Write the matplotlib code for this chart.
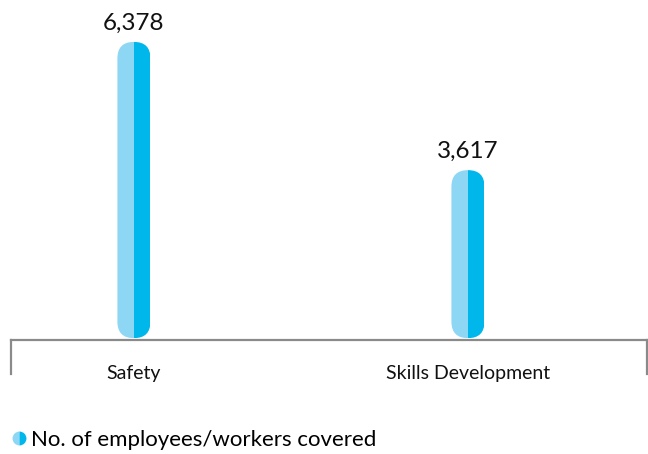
import matplotlib.pyplot as plt
from matplotlib.lines import Line2D
from matplotlib.patches import FancyBboxPatch
from matplotlib.transforms import IdentityTransform

categories = ['Safety', 'Skills Development']
covered = [6378, 3617]
legend_label = 'No. of employees/workers covered'

light = '#8dd7f5'
dark = '#00b7ec'
axis_grey = '#8a8a8a'

plt.rcParams['font.family'] = ['Lato', 'DejaVu Sans']

fig = plt.figure(figsize=(6.48, 4.54), dpi=100)
ax = fig.add_axes([11 / 648, 114 / 454, 636 / 648, 340 / 454])

pos = list(range(len(categories)))
half = 0.0495
left_bars = ax.bar([p - half / 2 for p in pos], covered, width=half, color=light, linewidth=0)
right_bars = ax.bar([p + half / 2 for p in pos], covered, width=half, color=dark, linewidth=0)

ax.set_xlim(-0.368, 1.536)
ax.set_ylim(-40, 7280)

for s in ['top', 'left', 'right']:
    ax.spines[s].set_visible(False)
ax.spines['bottom'].set_color(axis_grey)
ax.spines['bottom'].set_linewidth(1.6)
ax.spines['bottom'].set_position(('data', -40))
ax.set_yticks([])
ax.set_xticks(pos)
ax.set_xticklabels(categories, fontsize=14, family=['Lato', 'DejaVu Sans'])
ax.tick_params(axis='x', length=0, pad=18, colors='#111111')

# little end posts under the baseline
for xa in (0, 1):
    ax.plot([xa, xa], [0, -0.1], transform=ax.transAxes, clip_on=False,
            color=axis_grey, linewidth=1.6)

# round off the bar ends
fig.canvas.draw()
for lb, rb in zip(left_bars, right_bars):
    e1 = lb.get_window_extent()
    e2 = rb.get_window_extent()
    x0, y0 = e1.x0, e1.y0
    w = e2.x1 - e1.x0
    h = e1.y1 - e1.y0
    clip = FancyBboxPatch((x0, y0), w, h,
                          boxstyle=f'round,pad=0,rounding_size={w / 2}',
                          transform=IdentityTransform())
    lb.set_clip_path(clip)
    rb.set_clip_path(clip)

for p, v in zip(pos, covered):
    ax.annotate(f'{v:,}', (p, v), xytext=(0, 6), textcoords='offset points',
                ha='center', va='bottom', fontsize=17.5, color='#111111')

handle = Line2D([], [], linestyle='none', marker='o', markersize=10,
                fillstyle='left', markerfacecolor=light, markerfacecoloralt=dark,
                markeredgewidth=0)
fig.legend([handle], [legend_label], loc='lower left', bbox_to_anchor=(0.01, -0.005),
           frameon=False, fontsize=16, handlelength=0.5, handletextpad=0.3,
           borderaxespad=0.0, borderpad=0.3)

fig.savefig('out.png', dpi=100)
